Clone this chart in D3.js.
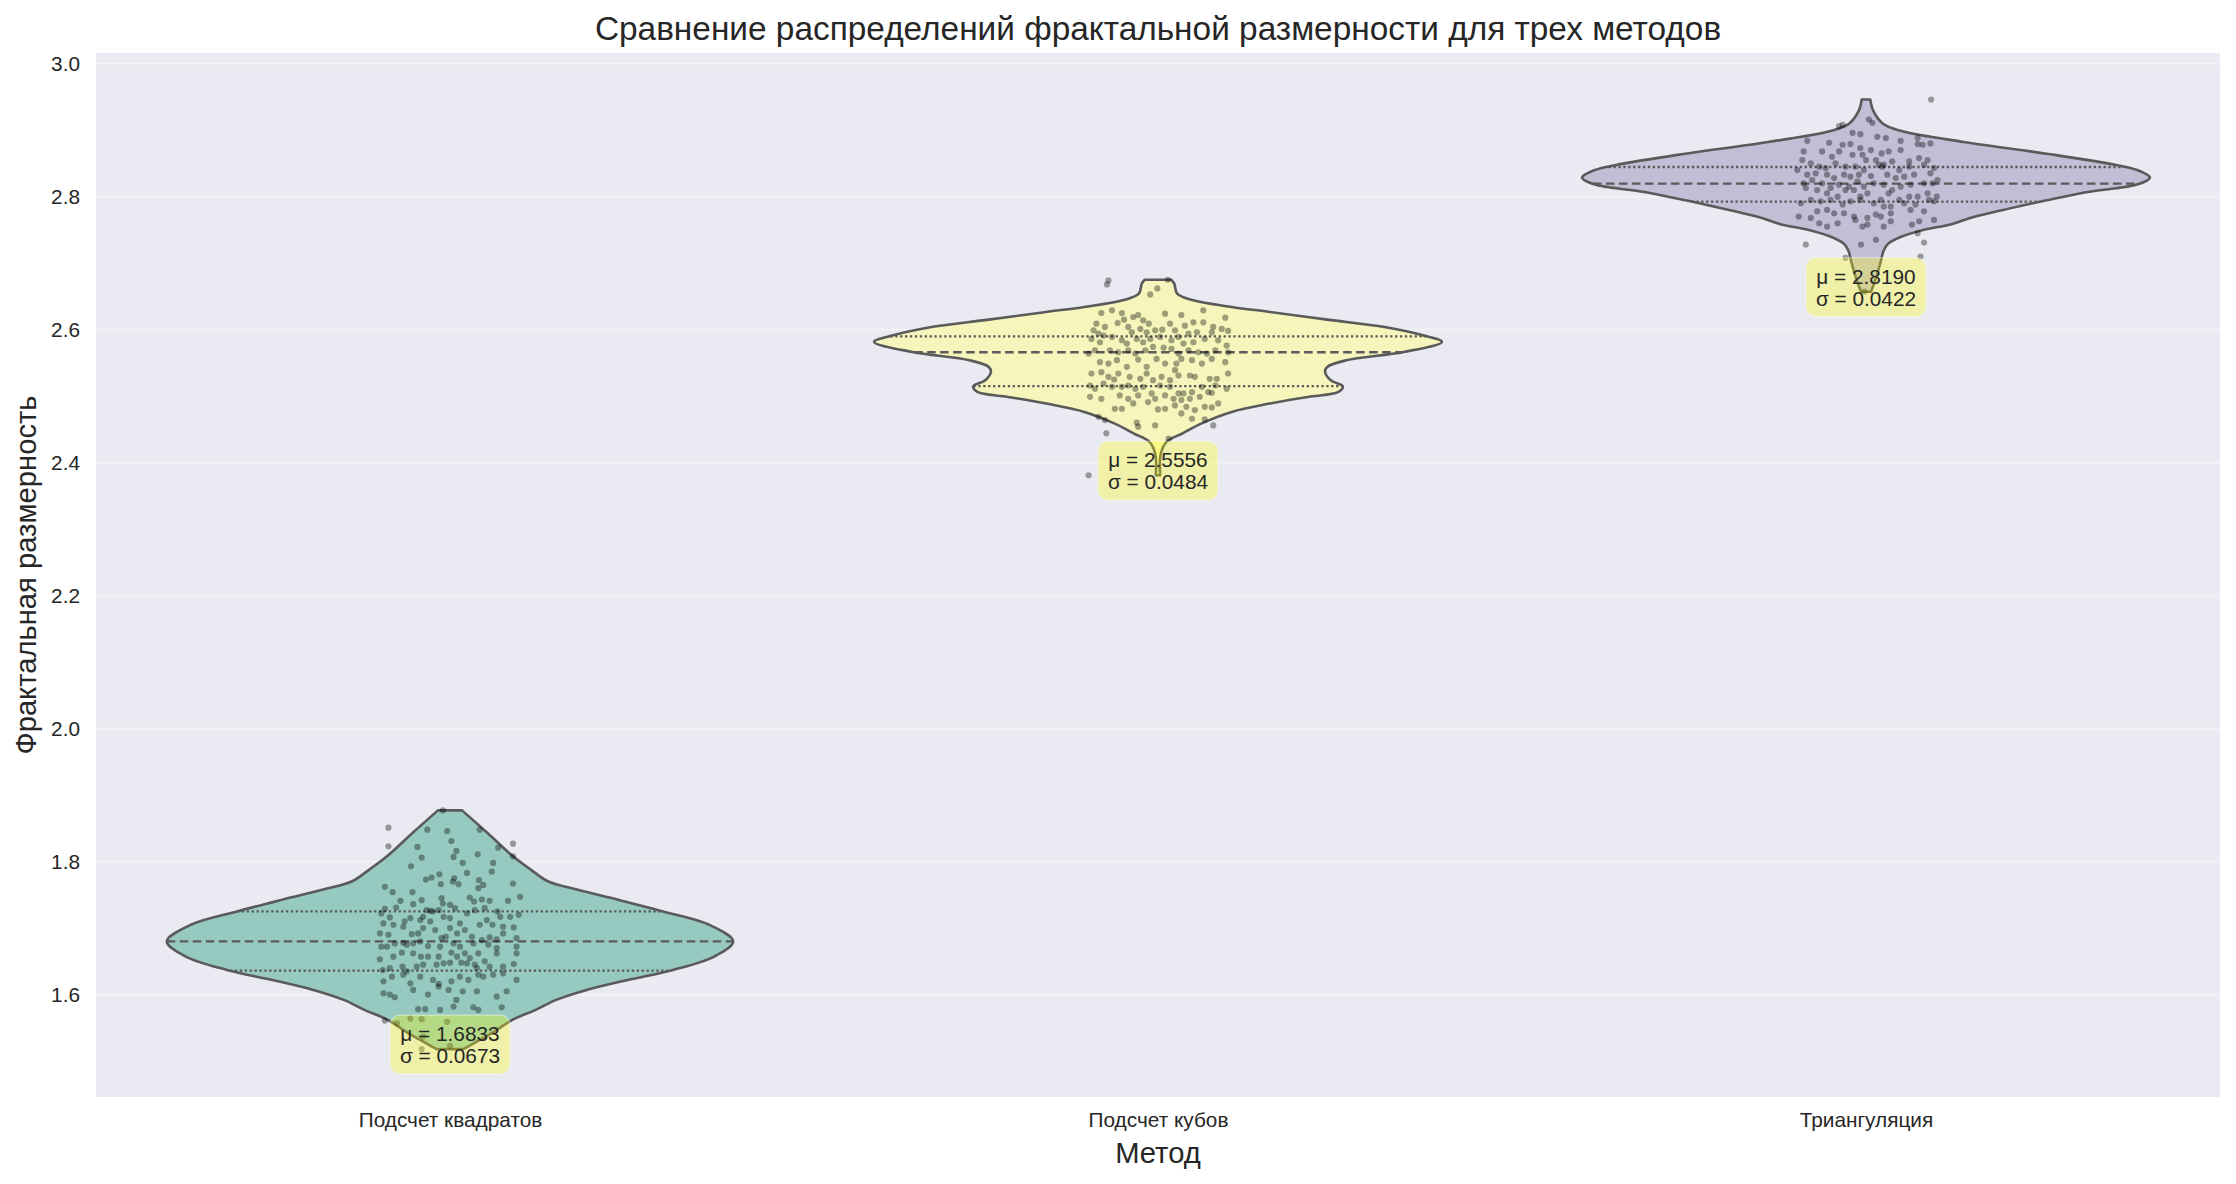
<!DOCTYPE html>
<html><head><meta charset="utf-8">
<script src="https://cdn.jsdelivr.net/npm/d3@7"></script>
<style>
body{margin:0;background:#fff}
svg{display:block}
text{font-family:"Liberation Sans",Arial,"DejaVu Sans",sans-serif;fill:#262626}
</style>
</head><body>
<svg id="chart" width="2236" height="1184"></svg>
<script>
// ---------- data ----------
const categories = ["Подсчет квадратов", "Подсчет кубов", "Триангуляция"];
const violinColors = ["#96cac1", "#f6f6bc", "#c1bed6"];
const yTicks = [1.6, 1.8, 2.0, 2.2, 2.4, 2.6, 2.8, 3.0];
const yTickLabels = ["1.6", "1.8", "2.0", "2.2", "2.4", "2.6", "2.8", "3.0"];
const means = [1.6833, 2.5556, 2.8190];
const stds = [0.0673, 0.0484, 0.0422];
const mins = [1.518, 2.381, 2.657];

// quartiles [Q1, median, Q3]
const quartilesSquares = [1.636, 1.680, 1.725];
const quartilesCubes = [2.515, 2.566, 2.590];
const quartilesTri = [2.7925, 2.8195, 2.8446];

// violin outline: [value, half-width in category units]
const densitySquares = [
[1.518,0.019],[1.527,0.034],[1.542,0.059],[1.562,0.088],[1.577,0.121],[1.592,0.150],[1.607,0.193],
[1.622,0.251],[1.637,0.315],[1.657,0.373],[1.680,0.400],[1.705,0.366],[1.725,0.301],[1.743,0.236],
[1.758,0.179],[1.770,0.139],[1.788,0.114],[1.808,0.089],[1.843,0.053],[1.877,0.017]];
const densityCubes = [
[2.381,0.003],[2.4137,0.004],[2.4312,0.012],[2.4437,0.034],[2.4587,0.061],[2.4763,0.104],[2.4888,0.158],
[2.4988,0.212],[2.5063,0.255],[2.5148,0.261],[2.5239,0.244],[2.5364,0.236],[2.5439,0.239],[2.5539,0.266],
[2.5664,0.347],[2.5815,0.401],[2.5915,0.374],[2.604,0.320],[2.615,0.239],[2.6266,0.158],[2.6341,0.104],
[2.6441,0.050],[2.6541,0.027],[2.6691,0.023],[2.675,0.019]];
const densityTri = [
[2.657,0.007],[2.674,0.013],[2.699,0.020],[2.719,0.025],[2.729,0.031],[2.739,0.048],[2.749,0.078],
[2.759,0.122],[2.7695,0.152],[2.7795,0.192],[2.7945,0.255],[2.807,0.313],[2.8185,0.384],[2.8286,0.401],
[2.8396,0.384],[2.8496,0.343],[2.8646,0.255],[2.8822,0.138],[2.8987,0.050],[2.9097,0.024],[2.9298,0.010],[2.946,0.006]];

// strip points: [jitter offset in category units, value]
const pointsSquares = [
[-0.010,1.877],[-0.087,1.851],[-0.087,1.823],[-0.032,1.848],[-0.004,1.846],[0.002,1.831],[0.042,1.848],[-0.046,1.822],[-0.040,1.806],[0.009,1.816],
[0.039,1.811],[0.089,1.827],[0.089,1.808],[0.068,1.821],[0.061,1.798],[0.059,1.785],[0.018,1.798],[0.005,1.807],[-0.055,1.793],[-0.015,1.781],
[-0.026,1.776],[-0.034,1.773],[0.006,1.775],[0.012,1.766],[-0.013,1.766],[0.024,1.783],[0.041,1.772],[0.047,1.765],[0.040,1.760],[0.089,1.767],
[-0.092,1.762],[-0.081,1.754],[-0.053,1.754],[0.004,1.770],[-0.070,1.741],[-0.076,1.731],[-0.092,1.729],[-0.097,1.722],[-0.085,1.716],[-0.052,1.736],
[-0.040,1.742],[-0.012,1.745],[-0.010,1.737],[0,1.735],[0.028,1.746],[0.034,1.740],[0.045,1.743],[0.056,1.741],[0.082,1.741],[0.099,1.747],
[-0.033,1.727],[-0.028,1.726],[-0.024,1.725],[-0.016,1.727],[0.007,1.730],[0.024,1.722],[0.035,1.727],[0.049,1.730],[0.067,1.725],[0.085,1.717],
[0.097,1.720],[-0.094,1.707],[-0.080,1.705],[-0.064,1.710],[-0.056,1.715],[-0.042,1.712],[-0.038,1.717],[-0.028,1.710],[-0.009,1.717],[0,1.715],
[0.014,1.707],[0.042,1.705],[0.052,1.712],[0.060,1.705],[0.071,1.717],[0.075,1.702],[0.090,1.701],[-0.099,1.692],[-0.087,1.690],[-0.066,1.702],
[-0.054,1.691],[-0.045,1.692],[-0.038,1.700],[-0.021,1.697],[-0.012,1.685],[0,1.700],[0.010,1.692],[0.021,1.697],[0.031,1.687],[0.045,1.682],
[0.056,1.686],[0.066,1.683],[0.075,1.692],[0.094,1.685],[-0.097,1.672],[-0.089,1.672],[-0.078,1.677],[-0.066,1.678],[-0.061,1.675],[-0.052,1.677],
[-0.042,1.680],[-0.031,1.673],[-0.014,1.672],[-0.006,1.687],[0.005,1.677],[0.014,1.672],[0.033,1.677],[0.054,1.675],[0.066,1.670],[0.094,1.672],
[-0.099,1.653],[-0.080,1.657],[-0.068,1.663],[-0.052,1.662],[-0.041,1.657],[-0.031,1.657],[-0.016,1.657],[0.002,1.663],[0.010,1.657],[0.021,1.662],
[0.028,1.655],[0.040,1.662],[0.049,1.650],[0.066,1.662],[0.094,1.662],[-0.095,1.637],[-0.085,1.640],[-0.067,1.642],[-0.061,1.635],[-0.047,1.642],
[-0.038,1.645],[-0.019,1.645],[-0.009,1.647],[0,1.648],[0.016,1.648],[0.024,1.647],[0.035,1.645],[0.038,1.640],[0.056,1.642],[0.075,1.642],
[0.090,1.646],[-0.094,1.620],[-0.082,1.627],[-0.066,1.630],[-0.056,1.617],[-0.042,1.627],[-0.024,1.622],[-0.016,1.616],[0.002,1.620],[0.014,1.627],
[0.026,1.622],[0.040,1.630],[0.047,1.627],[0.061,1.630],[0.075,1.632],[0.094,1.622],[-0.094,1.602],[-0.085,1.600],[-0.078,1.596],[-0.052,1.607],
[-0.031,1.600],[-0.016,1.612],[-0.002,1.607],[0.018,1.605],[0.038,1.605],[0.066,1.597],[0.080,1.605],[0.009,1.592],[-0.045,1.578],[-0.035,1.578],
[-0.014,1.577],[0.005,1.582],[0.033,1.581],[0.040,1.577],[0.073,1.581],[-0.092,1.561],[-0.056,1.564],[-0.040,1.563],[-0.004,1.559],[-0.040,1.518],
[0,1.523],[-0.038,1.537],[-0.075,1.557]];

const pointsCubes = [
[-0.070,2.674],[-0.072,2.668],[0.014,2.675],[-0.001,2.662],[-0.011,2.653],[-0.080,2.625],[-0.065,2.629],[-0.051,2.625],[-0.048,2.615],[-0.035,2.619],
[-0.028,2.622],[-0.021,2.614],[-0.013,2.609],[0.010,2.624],[0.033,2.622],[0.050,2.611],[0.064,2.629],[0.064,2.611],[0.078,2.604],[0.095,2.618],
[0.099,2.598],[-0.087,2.609],[-0.075,2.604],[-0.091,2.599],[-0.084,2.594],[-0.077,2.591],[-0.057,2.610],[-0.042,2.604],[-0.037,2.596],[-0.025,2.601],
[-0.016,2.596],[-0.004,2.599],[0.006,2.600],[0.017,2.609],[0.024,2.599],[0.038,2.606],[0.043,2.594],[0.055,2.596],[0.076,2.596],[0.090,2.601],
[-0.094,2.586],[-0.082,2.581],[-0.065,2.589],[-0.051,2.584],[-0.044,2.579],[-0.030,2.586],[-0.021,2.581],[-0.011,2.586],[0.003,2.589],[0.019,2.584],
[0.029,2.589],[0.036,2.579],[0.050,2.581],[0.066,2.586],[0.085,2.584],[0.097,2.576],[-0.098,2.564],[-0.089,2.569],[-0.068,2.569],[-0.056,2.566],
[-0.042,2.569],[-0.032,2.564],[-0.018,2.569],[-0.007,2.574],[0.008,2.573],[0.019,2.571],[0.029,2.564],[0.043,2.569],[0.057,2.566],[0.069,2.564],
[0.081,2.569],[0.099,2.566],[-0.082,2.551],[-0.070,2.549],[-0.058,2.554],[-0.044,2.544],[-0.028,2.555],[-0.016,2.544],[-0.002,2.556],[0.010,2.549],
[0.026,2.549],[0.033,2.556],[0.048,2.554],[0.062,2.549],[0.076,2.556],[0.095,2.551],[-0.094,2.534],[-0.080,2.536],[-0.070,2.529],[-0.062,2.525],
[-0.056,2.534],[-0.040,2.529],[-0.025,2.526],[-0.016,2.534],[-0.007,2.524],[0.005,2.529],[0.017,2.524],[0.024,2.539],[0.029,2.531],[0.045,2.531],
[0.052,2.529],[0.073,2.526],[0.083,2.526],[0.099,2.534],[-0.096,2.516],[-0.089,2.511],[-0.077,2.519],[-0.065,2.514],[-0.051,2.514],[-0.042,2.516],
[-0.032,2.511],[-0.021,2.514],[-0.009,2.504],[0.003,2.516],[0.017,2.514],[0.029,2.504],[0.036,2.504],[0.048,2.506],[0.062,2.514],[0.071,2.506],
[0.081,2.516],[0.097,2.511],[-0.096,2.499],[-0.080,2.496],[-0.054,2.501],[-0.042,2.496],[-0.028,2.501],[-0.014,2.491],[-0.004,2.496],[0.010,2.501],
[0.022,2.496],[0.033,2.494],[0.045,2.496],[0.059,2.499],[0.076,2.505],[0.085,2.489],[-0.061,2.481],[-0.051,2.481],[-0.035,2.489],[0,2.480],
[0.010,2.481],[0.024,2.486],[0.040,2.484],[0.052,2.479],[0.066,2.484],[0.076,2.483],[-0.084,2.469],[-0.075,2.464],[-0.030,2.460],[-0.004,2.456],
[0.033,2.474],[0.048,2.466],[0.066,2.465],[0.078,2.456],[-0.073,2.444],[-0.028,2.454],[0.015,2.436],[-0.098,2.381]];

const pointsTri = [
[0.092,2.946],[0.004,2.916],[0.009,2.911],[-0.033,2.908],[-0.038,2.906],[-0.019,2.896],[-0.008,2.894],[0.016,2.890],[0.028,2.888],[0.049,2.884],
[0.073,2.888],[-0.083,2.884],[-0.052,2.881],[-0.033,2.878],[-0.022,2.879],[-0.008,2.873],[0.007,2.870],[0.022,2.865],[0.032,2.868],[0.049,2.870],
[0.073,2.879],[0.080,2.878],[0.091,2.880],[-0.088,2.868],[-0.062,2.868],[-0.048,2.860],[-0.038,2.868],[-0.019,2.863],[-0.005,2.863],[0,2.855],
[0.014,2.855],[0.025,2.848],[0.037,2.853],[0.061,2.853],[0.075,2.858],[0.087,2.855],[-0.090,2.855],[-0.078,2.850],[-0.066,2.845],[-0.057,2.843],
[-0.043,2.850],[-0.029,2.845],[-0.015,2.845],[-0.003,2.840],[0.018,2.848],[0.023,2.845],[0.047,2.840],[0.061,2.845],[0.082,2.848],[0.096,2.843],
[-0.097,2.840],[-0.083,2.833],[-0.071,2.835],[-0.055,2.833],[-0.045,2.828],[-0.031,2.833],[-0.022,2.830],[-0.010,2.833],[0.007,2.831],[0.030,2.833],
[0.042,2.828],[0.054,2.830],[0.068,2.833],[0.091,2.835],[0.101,2.825],[-0.088,2.820],[-0.076,2.825],[-0.062,2.820],[-0.050,2.813],[-0.038,2.818],
[-0.024,2.815],[-0.012,2.823],[-0.003,2.815],[0.011,2.820],[0.025,2.818],[0.037,2.810],[0.049,2.815],[0.063,2.818],[0.082,2.820],[0.094,2.820],
[-0.085,2.813],[-0.069,2.810],[-0.055,2.805],[-0.040,2.800],[-0.029,2.810],[-0.017,2.810],[-0.008,2.800],[0.002,2.805],[0.021,2.795],[0.032,2.805],
[0.047,2.795],[0.061,2.800],[0.073,2.800],[0.087,2.805],[0.100,2.800],[-0.092,2.790],[-0.078,2.795],[-0.064,2.793],[-0.050,2.795],[-0.033,2.788],
[-0.022,2.793],[-0.008,2.795],[0.011,2.790],[0.025,2.785],[0.035,2.785],[0.054,2.790],[0.070,2.788],[0.089,2.795],[0.096,2.793],[-0.095,2.770],
[-0.078,2.768],[-0.069,2.778],[-0.055,2.780],[-0.045,2.775],[-0.031,2.775],[-0.017,2.770],[0.002,2.768],[0.014,2.773],[0.021,2.770],[0.035,2.775],
[0.063,2.780],[0.082,2.778],[-0.066,2.760],[-0.055,2.755],[-0.040,2.760],[-0.015,2.765],[-0.005,2.755],[0.002,2.758],[0.025,2.755],[0.035,2.763],
[0.065,2.758],[0.075,2.763],[0.096,2.765],[0.073,2.745],[0.014,2.735],[-0.007,2.728],[-0.085,2.728],[0.082,2.731],[-0.029,2.708],[0.077,2.710],
[-0.002,2.657]];

const groups = [
  {density: densitySquares, quart: quartilesSquares, points: pointsSquares},
  {density: densityCubes, quart: quartilesCubes, points: pointsCubes},
  {density: densityTri, quart: quartilesTri, points: pointsTri}
];

// ---------- layout ----------
const plot = {left: 96, right: 2220, top: 53, bottom: 1097};
const svg = d3.select("#chart");
const xs = d3.scaleLinear().domain([-0.5, 2.5]).range([plot.left, plot.right]);
const ys = d3.scaleLinear().domain([1.446, 3.016]).range([plot.bottom, plot.top]);
const lineColor = "#5a5a5a";
const fontStack = '"Liberation Sans",Arial,sans-serif';

svg.append("rect").attr("x", plot.left).attr("y", plot.top)
  .attr("width", plot.right - plot.left).attr("height", plot.bottom - plot.top)
  .attr("fill", "#eaeaf2");

// grid
svg.append("g").selectAll("line").data(yTicks).join("line")
  .attr("x1", plot.left).attr("x2", plot.right)
  .attr("y1", d => ys(d)).attr("y2", d => ys(d))
  .attr("stroke", "#ffffff").attr("stroke-opacity", 0.4).attr("stroke-width", 1.8);

// axes
const yAxis = d3.axisLeft(ys).tickValues(yTicks).tickFormat((d, i) => yTickLabels[i]).tickSize(0).tickPadding(16);
const gy = svg.append("g").attr("transform", `translate(${plot.left},0)`).call(yAxis);
gy.select(".domain").remove();
gy.selectAll("text").attr("font-size", 20.8).attr("fill", "#262626").style("font-family", fontStack);

const xAxis = d3.axisBottom(xs).tickValues([0, 1, 2]).tickFormat(i => categories[i]).tickSize(0).tickPadding(15);
const gx = svg.append("g").attr("transform", `translate(0,${plot.bottom})`).call(xAxis);
gx.select(".domain").remove();
gx.selectAll("text").attr("font-size", 20.8).attr("fill", "#262626").style("font-family", fontStack);

// violins
groups.forEach((g, i) => {
  const area = d3.area()
    .curve(d3.curveCatmullRom)
    .y(d => ys(d[0]))
    .x0(d => xs(i - d[1]))
    .x1(d => xs(i + d[1]));
  svg.append("path").datum(g.density).attr("d", area)
    .attr("fill", violinColors[i]).attr("stroke", lineColor).attr("stroke-width", 2.6)
    .attr("stroke-linejoin", "round");
  const hw = d3.scaleLinear().domain(g.density.map(d => d[0])).range(g.density.map(d => d[1]));
  g.quart.forEach((q, k) => {
    svg.append("line")
      .attr("x1", xs(i - hw(q))).attr("x2", xs(i + hw(q)))
      .attr("y1", ys(q)).attr("y2", ys(q))
      .attr("stroke", lineColor).attr("stroke-width", 2.3)
      .attr("stroke-dasharray", k === 1 ? "8.5,4.5" : "2.3,2.6");
  });
});

// strip points
groups.forEach((g, i) => {
  svg.append("g").selectAll("circle").data(g.points).join("circle")
    .attr("cx", d => xs(i + d[0])).attr("cy", d => ys(d[1]))
    .attr("r", 3.1).attr("fill", "#000").attr("fill-opacity", 0.36);
});

// annotations
categories.forEach((c, i) => {
  const g = svg.append("g");
  const cx = xs(i);
  const base = ys(mins[i]) - 8;
  const t = g.append("text").attr("text-anchor", "middle").attr("font-size", 20.8);
  t.append("tspan").attr("x", cx).attr("y", base).text(`μ = ${means[i].toFixed(4)}`);
  t.append("tspan").attr("x", cx).attr("y", base + 22).text(`σ = ${stds[i].toFixed(4)}`);
  const bb = t.node().getBBox();
  g.insert("rect", "text")
    .attr("x", bb.x - 10).attr("y", bb.y - 7)
    .attr("width", bb.width + 20).attr("height", bb.height + 14)
    .attr("rx", 10).attr("ry", 10)
    .attr("fill", "#ffff00").attr("fill-opacity", 0.3)
    .attr("stroke", "#ffffff").attr("stroke-opacity", 0.4).attr("stroke-width", 1.2);
});

// titles
svg.append("text").attr("x", (plot.left + plot.right) / 2).attr("y", 40)
  .attr("text-anchor", "middle").attr("font-size", 33.4)
  .text("Сравнение распределений фрактальной размерности для трех методов");
svg.append("text").attr("x", (plot.left + plot.right) / 2).attr("y", 1163)
  .attr("text-anchor", "middle").attr("font-size", 29.2).text("Метод");
svg.append("text").attr("transform", `translate(36,${(plot.top + plot.bottom) / 2}) rotate(-90)`)
  .attr("text-anchor", "middle").attr("font-size", 29.2).text("Фрактальная размерность");
</script>
</body></html>
